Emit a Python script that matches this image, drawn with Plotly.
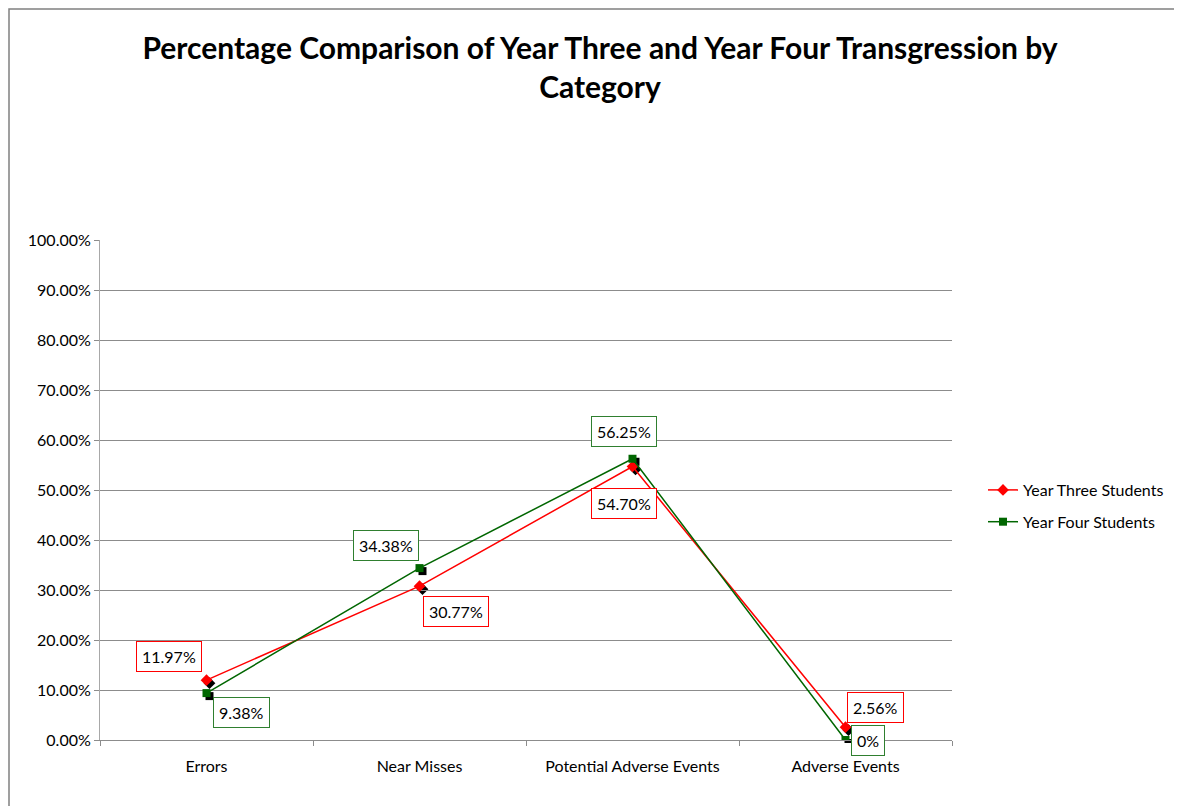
import plotly.graph_objects as go

categories = ["Errors", "Near Misses", "Potential Adverse Events", "Adverse Events"]
year_three = [11.97, 30.77, 54.70, 2.56]
year_four = [9.38, 34.38, 56.25, 0.0]
year_three_labels = ["11.97%", "30.77%", "54.70%", "2.56%"]
year_four_labels = ["9.38%", "34.38%", "56.25%", "0%"]
y_ticks = [0, 10, 20, 30, 40, 50, 60, 70, 80, 90, 100]
y_tick_text = [f"{v:.2f}%" for v in y_ticks]

RED = "#FF0000"
GREEN = "#006600"
GREEN_BOX = "#2F7F2F"
GRID = "#8C8C8C"
AXIS = "#A8A8A8"
FONT = "Lato, 'Open Sans', sans-serif"

# page has an 8px body margin, so the figure is sized to fit the window
W, H = 1174, 798
SH = 3  # marker shadow offset, px
L, T = 92, 232
R = W - (944 + SH)
B = H - (732 + SH)
PW, PH = W - L - R, H - T - B
dx, dy = SH / PW, SH / PH

fig = go.Figure()

# marker shadows (drawn first, on shifted hidden axes)
fig.add_trace(go.Scatter(x=categories, y=year_three, mode="markers", xaxis="x", yaxis="y",
                         marker=dict(symbol="diamond", size=9, color="black"),
                         showlegend=False, hoverinfo="skip"))
fig.add_trace(go.Scatter(x=categories, y=year_four, mode="markers", xaxis="x", yaxis="y",
                         marker=dict(symbol="square", size=8, color="black"),
                         showlegend=False, hoverinfo="skip"))

fig.add_trace(go.Scatter(x=categories, y=year_three, mode="lines+markers", name="Year Three Students",
                         xaxis="x2", yaxis="y2", legendgroup="a",
                         line=dict(color=RED, width=1.5),
                         marker=dict(symbol="diamond", size=9, color=RED)))
fig.add_trace(go.Scatter(x=categories, y=year_four, mode="lines+markers", name="Year Four Students",
                         xaxis="x2", yaxis="y2", legendgroup="b",
                         line=dict(color=GREEN, width=1.5),
                         marker=dict(symbol="square", size=8, color=GREEN)))

offsets_three = [(-38, 24), (36, -25), (-9, -37), (30, 20)]
offsets_four = [(35, -19), (-34, 23), (-9, 27), (22, 0)]

for cat, val, txt, (ox, oy) in zip(categories, year_three, year_three_labels, offsets_three):
    fig.add_annotation(x=cat, y=val, xref="x2", yref="y2", text=txt, showarrow=False,
                       xshift=ox, yshift=oy, bordercolor=RED, borderwidth=1, borderpad=5,
                       bgcolor="white", font=dict(family=FONT, size=16, color="black"))
for cat, val, txt, (ox, oy) in zip(categories, year_four, year_four_labels, offsets_four):
    fig.add_annotation(x=cat, y=val, xref="x2", yref="y2", text=txt, showarrow=False,
                       xshift=ox, yshift=oy, bordercolor=GREEN_BOX, borderwidth=1, borderpad=5,
                       bgcolor="white", font=dict(family=FONT, size=16, color="black"))

# outer chart border (left & top visible)
fig.add_shape(type="rect", xref="paper", yref="paper",
              x0=(1 - L) / PW, x1=(W + 20 - L) / PW,
              y0=-(B + 20) / PH, y1=(T + PH - 1) / PH,
              line=dict(color="#808080", width=1.5), layer="below")

fig.update_layout(
    width=W, height=H,
    margin=dict(l=L, r=R, t=T, b=B, autoexpand=False),
    paper_bgcolor="white", plot_bgcolor="rgba(0,0,0,0)",
    font=dict(family=FONT, size=16, color="black"),
    title=dict(text="<b>Percentage Comparison of Year Three and Year Four Transgression by<br>Category</b>",
               x=592 / W, xanchor="center", y=1 - 51 / H, yanchor="middle",
               font=dict(family=FONT, size=30, color="black")),
    xaxis=dict(domain=[dx, 1], type="category", range=[-0.5, 3.5], anchor="y",
               visible=False, showgrid=False),
    yaxis=dict(domain=[0, 1 - dy], range=[0, 100], anchor="x", visible=False, showgrid=False),
    xaxis2=dict(domain=[0, 1 - dx], type="category", range=[-0.5, 3.5], anchor="y2",
                showline=True, linecolor=GRID, linewidth=1,
                ticks="outside", tickson="boundaries", ticklen=5, tickcolor=GRID,
                showgrid=False, tickfont=dict(family=FONT, size=16), zeroline=False,
                ticklabelstandoff=12),
    yaxis2=dict(domain=[dy, 1], range=[0, 100], anchor="x2", tickvals=y_ticks, ticktext=y_tick_text,
                showline=True, linecolor=AXIS, linewidth=1,
                ticks="outside", ticklen=5, tickcolor=GRID,
                showgrid=True, gridcolor=GRID, gridwidth=1, zeroline=False,
                tickfont=dict(family=FONT, size=16)),
    legend=dict(x=(975 - L) / PW, y=(T + PH - 498) / PH, xref="paper", yref="paper",
                xanchor="left", yanchor="middle", bgcolor="rgba(0,0,0,0)",
                font=dict(family=FONT, size=16), tracegroupgap=8, itemwidth=30),
    showlegend=True,
)

fig.write_html("out.html")
